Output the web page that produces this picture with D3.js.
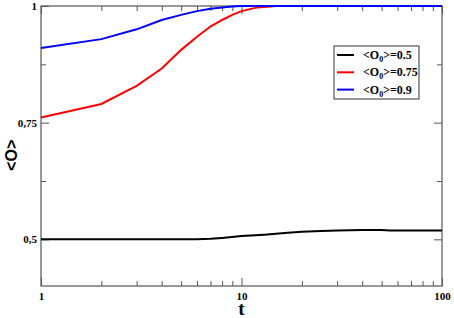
<!DOCTYPE html>
<html>
<head>
<meta charset="utf-8">
<script src="https://cdn.jsdelivr.net/npm/d3@7"></script>
<style>
  body { margin: 0; background: #fff; }
</style>
</head>
<body>
<div id="chart"></div>
<script>
// values
var tBlack = [1, 2, 3, 4, 5, 6, 7, 8, 10, 13, 17, 20, 25, 30, 40, 50, 55, 100];
var vBlack = [0.5, 0.5, 0.5, 0.5, 0.5, 0.5, 0.501, 0.503, 0.507, 0.510, 0.514, 0.516, 0.518, 0.519, 0.520, 0.520, 0.519, 0.519];
var tRed = [1, 2, 3, 4, 5, 6, 7, 8, 9, 10, 12, 15, 20, 100];
var vRed = [0.761, 0.79, 0.829, 0.866, 0.906, 0.934, 0.956, 0.97, 0.981, 0.989, 0.997, 1, 1, 1];
var tBlue = [1, 2, 3, 4, 5, 6, 7, 8, 9, 10, 100];
var vBlue = [0.91, 0.929, 0.95, 0.97, 0.981, 0.989, 0.994, 0.997, 0.999, 1, 1];
var seriesNames = ["0.5", "0.75", "0.9"];
var seriesColors = ["#000000", "#ff0000", "#0000ff"];
var xTickLabels = [1, 10, 100];
var yTickValues = [0.5, 0.75, 1];
var yTickLabels = ["0,5", "0,75", "1"];

var serif = "'Liberation Serif', 'DejaVu Serif', serif";
var sans = "'Liberation Sans', 'DejaVu Sans', sans-serif";

var margin = {top: 6, right: 12, bottom: 32, left: 41},
    width = 454 - margin.left - margin.right,
    height = 318 - margin.top - margin.bottom;

var svg = d3.select("#chart").append("svg")
  .attr("width", 454)
  .attr("height", 318)
  .append("g")
  .attr("transform", "translate(" + margin.left + "," + margin.top + ")");

var x = d3.scaleLog().domain([1, 100]).range([0, width]);
var y = d3.scaleLinear().domain([0.4, 1]).range([height, 0]);

var axisColor = "#555";
var minorX = [];
[1, 10].forEach(function(b) { for (var k = 2; k <= 9; k++) minorX.push(b * k); });
var minorY = [0.625, 0.875];

function styleAxis(g) {
  g.select(".domain").remove();
  g.attr("font-family", null);
  g.selectAll(".tick line").attr("stroke", axisColor).attr("stroke-width", 1);
  g.selectAll("text")
    .attr("font-size", 11).attr("fill", "#000")
    .attr("font-family", serif).attr("font-weight", "bold");
}

// bottom axis: major ticks with labels, minor without
svg.append("g").attr("transform", "translate(0," + height + ")")
  .call(d3.axisBottom(x).tickValues(xTickLabels).tickSize(-8).tickPadding(6).tickFormat(d3.format("d")))
  .call(styleAxis);
svg.append("g").attr("transform", "translate(0," + height + ")")
  .call(d3.axisBottom(x).tickValues(minorX).tickSize(-5).tickFormat(""))
  .call(styleAxis);
// top axis
svg.append("g")
  .call(d3.axisTop(x).tickValues(xTickLabels).tickSize(-8).tickFormat(""))
  .call(styleAxis);
svg.append("g")
  .call(d3.axisTop(x).tickValues(minorX).tickSize(-5).tickFormat(""))
  .call(styleAxis);

// left axis
svg.append("g")
  .call(d3.axisLeft(y).tickValues(yTickValues).tickSize(-8).tickPadding(4)
    .tickFormat(function(d, i) { return yTickLabels[i]; }))
  .call(styleAxis);
svg.append("g")
  .call(d3.axisLeft(y).tickValues(minorY).tickSize(-5).tickFormat(""))
  .call(styleAxis);
// right axis
svg.append("g").attr("transform", "translate(" + width + ",0)")
  .call(d3.axisRight(y).tickValues(yTickValues).tickSize(-8).tickFormat(""))
  .call(styleAxis);
svg.append("g").attr("transform", "translate(" + width + ",0)")
  .call(d3.axisRight(y).tickValues(minorY).tickSize(-5).tickFormat(""))
  .call(styleAxis);

// frame
svg.append("rect")
  .attr("width", width).attr("height", height)
  .attr("fill", "none").attr("stroke", axisColor).attr("stroke-width", 1.2);

// lines
var line = d3.line()
  .x(function(d) { return x(d[0]); })
  .y(function(d) { return y(d[1]); });

var series = [
  d3.zip(tBlack, vBlack),
  d3.zip(tRed, vRed),
  d3.zip(tBlue, vBlue)
];
series.forEach(function(s, i) {
  svg.append("path")
    .datum(s)
    .attr("fill", "none")
    .attr("stroke", seriesColors[i])
    .attr("stroke-width", 2)
    .attr("d", line);
});

// axis titles
svg.append("text")
  .attr("x", x(10))
  .attr("y", height + 29)
  .attr("text-anchor", "middle")
  .attr("font-family", serif).attr("font-weight", "bold")
  .attr("font-size", 19)
  .text("t");

svg.append("text")
  .attr("transform", "translate(" + (-24) + "," + y(0.68) + ") rotate(-90)")
  .attr("text-anchor", "middle")
  .attr("font-family", sans).attr("font-weight", "bold")
  .attr("font-size", 16)
  .text("<O>");

// legend
var lg = svg.append("g").attr("transform", "translate(" + (334 - margin.left) + "," + (46 - margin.top) + ")");
lg.append("rect")
  .attr("width", 85).attr("height", 53)
  .attr("fill", "#fff").attr("stroke", "#333").attr("stroke-width", 1);
seriesNames.forEach(function(name, i) {
  var yy = 9 + i * 17.3;
  lg.append("line")
    .attr("x1", 3).attr("x2", 20).attr("y1", yy).attr("y2", yy)
    .attr("stroke", seriesColors[i]).attr("stroke-width", 2);
  var t = lg.append("text")
    .attr("x", 29).attr("y", yy + 4)
    .attr("font-family", serif).attr("font-weight", "bold")
    .attr("font-size", 12);
  t.append("tspan").text("<O");
  t.append("tspan").attr("font-size", 8).attr("dy", 3).text("0");
  t.append("tspan").attr("dy", -3).text(">=" + name);
});
</script>
</body>
</html>
